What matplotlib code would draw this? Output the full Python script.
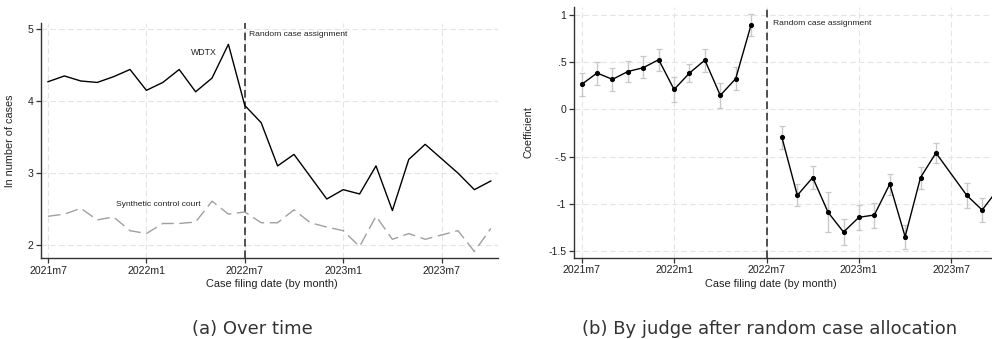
import numpy as np
import matplotlib
matplotlib.use("Agg")
import matplotlib.pyplot as plt

plt.rcParams['font.family'] = ['Liberation Sans', 'DejaVu Sans']

# months since 2021m7 (0 = 2021m7 ... 27 = 2023m10)
months = list(range(28))
tick_pos = [0, 6, 12, 18, 24]
tick_labels = ['2021m7', '2022m1', '2022m7', '2023m1', '2023m7']
assign_month = 12

# panel (a): ln number of cases
wdtx = [4.27, 4.35, 4.28, 4.26, 4.34, 4.44, 4.15, 4.26, 4.44, 4.13, 4.32, 4.79,
        3.94, 3.70, 3.10, 3.26, 2.95, 2.64, 2.77, 2.71, 3.10, 2.48, 3.19, 3.40,
        3.20, 3.00, 2.77, 2.89]
synth = [2.40, 2.43, 2.51, 2.35, 2.39, 2.20, 2.16, 2.30, 2.30, 2.32, 2.61, 2.43,
         2.46, 2.31, 2.31, 2.49, 2.31, 2.25, 2.20, 1.98, 2.40, 2.08, 2.16, 2.08,
         2.14, 2.20, 1.91, 2.23]

# panel (b): judge coefficients with confidence intervals
pre_months = list(range(12))
coef_pre = [0.264, 0.384, 0.317, 0.40, 0.44, 0.525, 0.21, 0.384, 0.52, 0.148, 0.324, 0.894]
lo_pre = [0.14, 0.26, 0.19, 0.29, 0.33, 0.41, 0.074, 0.29, 0.39, 0.018, 0.20, 0.78]
hi_pre = [0.38, 0.50, 0.44, 0.51, 0.56, 0.64, 0.345, 0.475, 0.64, 0.275, 0.45, 1.007]

post_months = [13, 14, 15, 16, 17, 18, 19, 20, 21, 22, 23, 25, 26, 27]
coef_post = [-0.296, -0.908, -0.72, -1.088, -1.296, -1.14, -1.116, -0.79, -1.345,
             -0.72, -0.46, -0.908, -1.063, -0.85]
lo_post = [-0.42, -1.02, -0.845, -1.30, -1.43, -1.27, -1.25, -0.90, -1.48,
           -0.84, -0.57, -1.04, -1.19, -0.97]
hi_post = [-0.18, -0.79, -0.60, -0.877, -1.16, -1.01, -0.99, -0.68, -1.22,
           -0.61, -0.35, -0.78, -0.94, -0.73]

fig = plt.figure(figsize=(9.92, 3.39), dpi=100)
ax1 = fig.add_axes([0.0413, 0.2389, 0.4607, 0.6941])
ax2 = fig.add_axes([0.5786, 0.2398, 0.4214, 0.7386])


def style_axis(ax):
    for s in ['top', 'right']:
        ax.spines[s].set_visible(False)
    for s in ['left', 'bottom']:
        ax.spines[s].set_color('#333333')
        ax.spines[s].set_linewidth(1.0)
    ax.set_xticks(tick_pos)
    ax.set_xticklabels(tick_labels)
    ax.tick_params(direction='out', length=3.5, width=0.9, color='#333333',
                   labelsize=7.6, labelcolor='#222222', pad=2)
    ax.grid(True, color='#e4e4e4', linestyle=(0, (5, 3)), linewidth=0.8)
    ax.set_axisbelow(True)
    ax.axvline(assign_month, color='#222222', linestyle=(0, (5, 2.5)), linewidth=1.1, zorder=1)


# (a) over time
style_axis(ax1)
ax1.plot(months, wdtx, color='black', linewidth=1.0, zorder=3)
ax1.plot(months, synth, color='#a0a0a0', linewidth=1.0, dashes=(9, 4), zorder=3)
ax1.set_xlim(-0.43, 27.44)
ax1.set_ylim(1.82, 5.09)
ax1.set_yticks([2, 3, 4, 5])
ax1.set_ylabel('ln number of cases', fontsize=7.8, color='#222222')
ax1.yaxis.set_label_coords(-0.057, 0.5)
ax1.text(9.5, 4.68, 'WDTX', fontsize=6.3, color='#222222', ha='center', va='center')
ax1.text(6.7, 2.57, 'Synthetic control court', fontsize=6.1, color='#222222',
         ha='center', va='center')
ax1.text(12.26, 4.92, 'Random case assignment', fontsize=6.1, color='#222222',
         ha='left', va='center')

# (b) by judge
style_axis(ax2)
for m, c, lo, hi in [(pre_months, coef_pre, lo_pre, hi_pre),
                     (post_months, coef_post, lo_post, hi_post)]:
    c = np.array(c)
    err = [c - np.array(lo), np.array(hi) - c]
    ax2.errorbar(m, c, yerr=err, fmt='none', ecolor='#c8c8c8', elinewidth=1.0,
                 capsize=2.2, capthick=0.9, zorder=2)
    ax2.plot(m, c, color='black', linewidth=1.0, marker='o', markersize=2.7, zorder=3)
ax2.set_xlim(-0.5, 26.64)
ax2.set_ylim(-1.567, 1.078)
ax2.set_yticks([1, 0.5, 0, -0.5, -1, -1.5])
ax2.set_yticklabels(['1', '.5', '0', '-.5', '-1', '-1.5'])
ax2.set_ylabel('Coefficient', fontsize=7.8, color='#222222')
ax2.yaxis.set_label_coords(-0.096, 0.5)
ax2.text(12.42, 0.91, 'Random case assignment', fontsize=6.1, color='#222222',
         ha='left', va='center')

# x-axis titles and subcaptions
fig.text(272 / 992, 0.162, 'Case filing date (by month)', fontsize=7.9,
         color='#222222', ha='center', va='center')
fig.text(771 / 992, 0.162, 'Case filing date (by month)', fontsize=7.9,
         color='#222222', ha='center', va='center')
fig.text(0.254, 0.03, '(a) Over time', fontsize=13, color='#333333',
         ha='center', va='center', family=['DejaVu Sans'])
fig.text(0.776, 0.03, '(b) By judge after random case allocation', fontsize=13,
         color='#333333', ha='center', va='center', family=['DejaVu Sans'])

fig.savefig('out.png', dpi=100)
